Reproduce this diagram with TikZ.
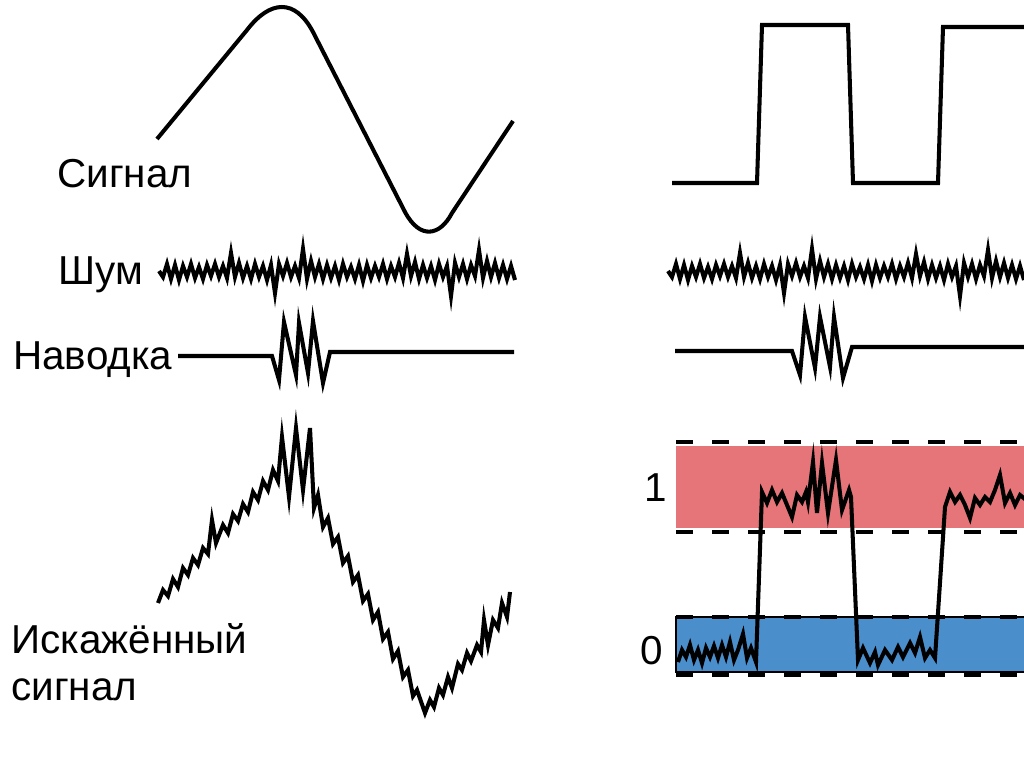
\documentclass[tikz,border=0pt]{standalone}
\usepackage{fontspec}
\setmainfont{Liberation Sans}
\definecolor{bandred}{RGB}{230,117,122}
\definecolor{bandblue}{RGB}{74,142,204}
\newcommand\noiselist{6,-7,8,-6,9,-5,6,-7,7,-4,8,-6,5,-7,6,-5,7,-18,6,-8,7,-5,8,-7,6,-5,9,-6,22,-7,5,-8,6,-5,7,-22,8,-10,6,-7,8,-6,7,-5,9,-7,6,-4,8,-6,10,-6,7,-5,6,-7,8,-5,6,-8,7,-17,5,-9,8,-6,7,-5,9,-7,6,-5,25,-8,6,-7,8,-6,5,-21,7,-10,6,-8,7,-6,8,-5,9}
\newcommand\drawnoise[2]{\draw[wave] (#1,#2) \foreach \v [count=\i] in \noiselist {-- ({#1+4*\i},{#2+\v})};}
\begin{document}
\begin{tikzpicture}[x=0.02cm,y=-0.02cm,
  wave/.style={line width=2.3pt, line join=miter},
  lbl/.style={anchor=base west, inner sep=0pt, font=\fontsize{23}{27}\selectfont},
  level/.style={line width=2.3pt, dash pattern=on 9.7pt off 10.8pt}]
\useasboundingbox (0,0) rectangle (1024,767);
\clip (0,0) rectangle (1024,767);

% labels
\node[lbl] (sig) at (57,187) {Сигнал};
\node[lbl] (shum) at (58,284) {Шум};
\node[lbl] (nav) at (13,369) {Наводка};
\node[lbl] (isk) at (11,653) {Искажённый};
\node[lbl] (isk2) at (11,700) {сигнал};
\node[lbl] (one) at (644,501) {1};
\node[lbl] (zero) at (640,664) {0};

% signal (analog)
\draw[wave] (157,139) -- (247,30) .. controls (270,0) and (295,-2) .. (313,32)
  -- (405,212) .. controls (420,240) and (440,236) .. (452,213) -- (513,121);
% signal (digital)
\draw[wave] (672,183) -- (757,183) -- (762,25) -- (848,25) -- (853,183)
  -- (938,183) -- (943,27) -- (1024,27);

% noise
\drawnoise{159}{271}
\drawnoise{668}{271}

% interference
\draw[wave] (178,356) -- (272,356) -- (279,380) -- (284,322) -- (296,375) -- (299,323)
  -- (308,373) -- (313,321) -- (323,383) -- (330,352) -- (514,352);
\draw[wave] (675,351) -- (792,351) -- (800,375) -- (805,317) -- (815,368) -- (820,317)
  -- (830,367) -- (834,317) -- (843,378) -- (852,347) -- (1024,347);

% distorted analog
\draw[wave] (158,603) -- (163,590) -- (168,596) -- (173,579) -- (178,587) -- (183,568)
  -- (188,575) -- (193,558) -- (198,565) -- (203,548) -- (208,554) -- (212,520)
  -- (216,543) -- (223,525) -- (228,533) -- (233,514) -- (238,521) -- (243,504)
  -- (248,512) -- (253,492) -- (258,500) -- (263,481) -- (268,490) -- (273,470)
  -- (278,481) -- (282,437) -- (289,497) -- (296,428) -- (303,490) -- (310,428)
  -- (314,508) -- (318,495) -- (323,527) -- (328,518) -- (333,544) -- (338,537)
  -- (343,563) -- (348,556) -- (353,582) -- (358,575) -- (363,601) -- (368,594)
  -- (373,620) -- (378,612) -- (383,639) -- (388,632) -- (393,659) -- (398,651)
  -- (403,677) -- (408,670) -- (413,696) -- (417,690) -- (425,713) -- (430,700)
  -- (434,707) -- (439,688) -- (443,695) -- (448,677) -- (452,688) -- (458,664)
  -- (462,670) -- (467,653) -- (471,661) -- (477,645) -- (481,652) -- (484,620)
  -- (488,645) -- (493,620) -- (498,628) -- (502,603) -- (507,617) -- (510,592);

% levels
\fill[bandred] (676,446) rectangle (1030,528);
\draw[fill=bandblue, line width=0.6pt] (676,617) rectangle (1030,672);
\draw[level] (676,442) -- (1030,442);
\draw[level] (676,532) -- (1030,532);
\draw[level] (676,617) -- (1030,617);
\draw[level] (676,675) -- (1030,675);

% distorted digital
\draw[wave] (678,662) -- (682,650) -- (686,657) -- (690,645) -- (694,660) -- (698,650)
  -- (702,663) -- (706,648) -- (710,657) -- (714,646) -- (718,658) -- (722,645)
  -- (726,657) -- (730,642) -- (734,660) -- (738,650) -- (743,634) -- (747,658)
  -- (751,648) -- (756,662) -- (762,492) -- (767,503) -- (772,490) -- (777,502)
  -- (782,493) -- (787,505) -- (792,517) -- (797,495) -- (802,502) -- (806,492)
  -- (808,502) -- (813,462) -- (817,513) -- (822,463) -- (828,513) -- (836,460)
  -- (842,510) -- (849,490) -- (851,497) -- (858,660) -- (863,648) -- (870,663)
  -- (875,652) -- (878,665) -- (885,650) -- (892,660) -- (898,647) -- (903,657)
  -- (910,643) -- (915,653) -- (920,637) -- (925,658) -- (930,650) -- (935,658)
  -- (945,507) -- (950,492) -- (955,502) -- (960,495) -- (965,505) -- (970,518)
  -- (975,498) -- (980,505) -- (985,497) -- (990,502) -- (995,490) -- (1000,475)
  -- (1005,503) -- (1010,493) -- (1015,505) -- (1020,495) -- (1026,500);
\end{tikzpicture}
\end{document}
